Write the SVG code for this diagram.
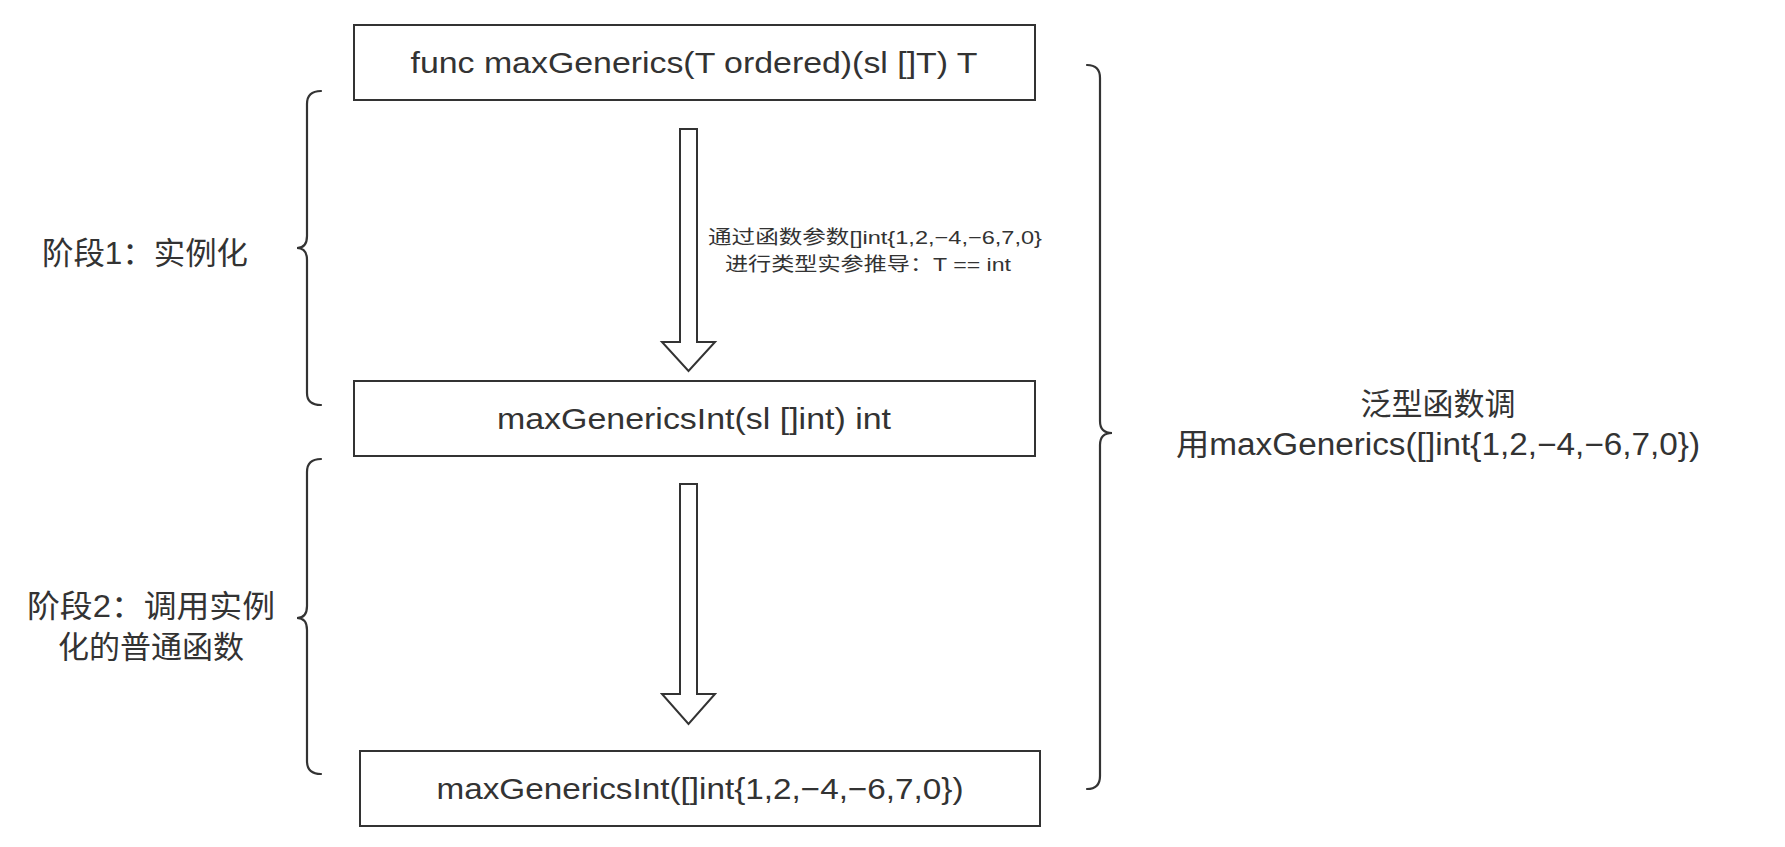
<svg xmlns="http://www.w3.org/2000/svg" width="1785" height="847" viewBox="0 0 1785 847">
<style>
.box{fill:#fff;stroke:#333;stroke-width:2}
.t{font-family:"Liberation Sans","Noto Sans CJK SC",sans-serif;fill:#333;text-anchor:middle}
.bt{font-size:29px}
.lt{font-size:31px}
.st{font-size:19px}
.brace{fill:none;stroke:#333;stroke-width:2.2;stroke-linecap:round}
.arrow{fill:#fff;stroke:#333;stroke-width:2;stroke-linejoin:miter}
</style>
<rect width="1785" height="847" fill="#fff"/>
<g id="node-generic">
<rect class="box" x="354" y="25" width="681" height="75"/>
<text class="t bt" x="694" y="73" textLength="567" lengthAdjust="spacingAndGlyphs">func maxGenerics(T ordered)(sl []T) T</text>
</g>
<g id="node-instance">
<rect class="box" x="354" y="381" width="681" height="75"/>
<text class="t bt" x="694" y="429" textLength="394" lengthAdjust="spacingAndGlyphs">maxGenericsInt(sl []int) int</text>
</g>
<g id="node-call">
<rect class="box" x="360" y="751" width="680" height="75"/>
<text class="t bt" x="700" y="799" textLength="527" lengthAdjust="spacingAndGlyphs">maxGenericsInt([]int{1,2,−4,−6,7,0})</text>
</g>
<g id="connectors">
<path class="arrow" d="M680,129 L697,129 L697,342 L715,342 L688.5,371 L662,342 L680,342 Z"/>
<text class="t st" x="875" y="244" textLength="334" lengthAdjust="spacingAndGlyphs">通过函数参数[]int{1,2,−4,−6,7,0}</text>
<text class="t st" x="868" y="271" textLength="286" lengthAdjust="spacingAndGlyphs">进行类型实参推导：T == int</text>
<path class="arrow" d="M680,484 L697,484 L697,694 L715,694 L688.5,724 L662,694 L680,694 Z"/>
</g>
<g id="brace-stage1">
<path class="brace" d="M321,91 Q307,91 307,104 L307,236 Q307,248 297,248 Q307,248 307,260 L307,393 Q307,405 321,405"/>
<text class="t lt" x="145" y="264" textLength="206" lengthAdjust="spacingAndGlyphs">阶段1：实例化</text>
</g>
<g id="brace-stage2">
<path class="brace" d="M321,459 Q307,459 307,472 L307,606 Q307,618 297,618 Q307,618 307,630 L307,761 Q307,774 321,774"/>
<text class="t lt" x="151" y="617" textLength="248" lengthAdjust="spacingAndGlyphs">阶段2：调用实例</text>
<text class="t lt" x="151" y="658">化的普通函数</text>
</g>
<g id="brace-total">
<path class="brace" d="M1087,65 Q1100,65 1100,78 L1100,421 Q1100,433 1112,433 Q1100,433 1100,445 L1100,776 Q1100,789 1087,789"/>
<text class="t lt" x="1438" y="415">泛型函数调</text>
<text class="t lt" x="1438" y="455" textLength="524" lengthAdjust="spacingAndGlyphs">用maxGenerics([]int{1,2,−4,−6,7,0})</text>
</g>
</svg>
